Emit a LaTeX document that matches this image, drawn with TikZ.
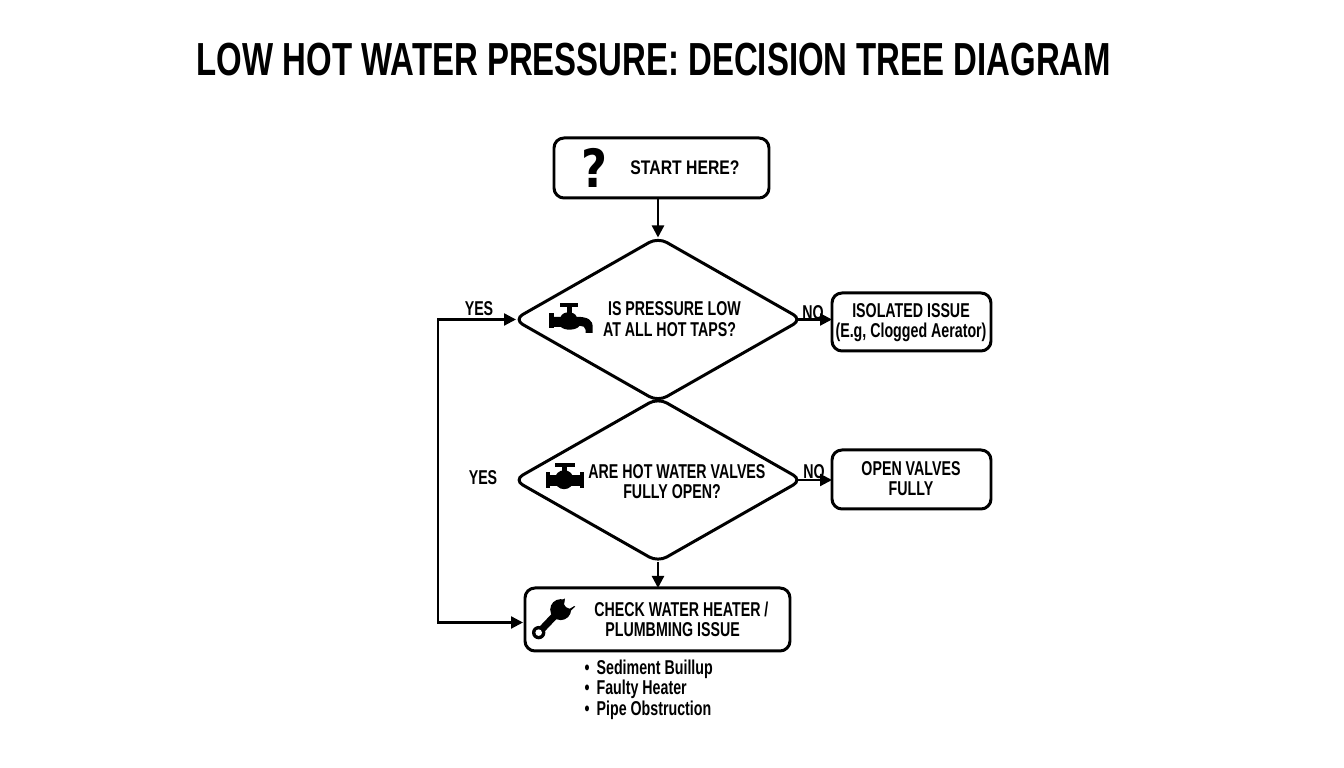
\documentclass[tikz,border=0pt]{standalone}
\usepackage{fontspec}
\setmainfont[FakeStretch=0.71]{Liberation Sans}
\newfontfamily\startfont[FakeStretch=0.8]{Liberation Sans}
\newfontfamily\markfont[FakeStretch=0.85]{DejaVu Sans}
\usetikzlibrary{shapes,arrows.meta,positioning,calc}

\begin{document}
\begin{tikzpicture}[>={Triangle[length=0.12cm,width=0.12cm]}]
\tikzstyle{box} = [draw, rectangle, rounded corners=0.1cm, line width=0.85pt, inner sep=0pt, outer sep=0pt]
\tikzstyle{decision} = [draw, diamond, rounded corners=0.1cm, line width=0.85pt, inner sep=0pt, outer sep=0pt, minimum width=2.88cm, minimum height=1.64cm]
\tikzstyle{label} = [align=center, inner sep=0pt, font=\fontsize{5.7}{5.85}\selectfont\bfseries]
\tikzstyle{flow} = [->, line width=0.65pt]
\tikzstyle{icon} = [fill=black, draw=none]

\useasboundingbox (0,0) rectangle (13.44,7.68);

\node[inner sep=0pt, font=\fontsize{13.2}{14}\selectfont\bfseries] (title) at (6.54,7.08) {LOW HOT WATER PRESSURE: DECISION TREE DIAGRAM};

\node[box, minimum width=2.15cm, minimum height=0.6cm] (start) at (6.615,6.00) {};
\node[label, font=\fontsize{5.6}{5.85}\selectfont\bfseries\startfont] (starttext) at (6.85,6.00) {START HERE?};
\node[inner sep=0pt, font=\fontsize{15}{15}\selectfont\bfseries\markfont] (mark) at (5.945,6.005) {?};

\node[decision] (taps) at (6.58,4.485) {};
\node[label] (tapstext) at (6.72,4.49) {\hspace*{1.4pt}IS PRESSURE LOW\\AT ALL HOT TAPS?\hspace*{1.4pt}};

\node[decision] (valves) at (6.58,2.88) {};
\node[label] (valvestext) at (6.745,2.865) {\hspace*{1.4pt}ARE HOT WATER VALVES\\FULLY OPEN?\hspace*{1.4pt}};

\node[box, minimum width=1.59cm, minimum height=0.58cm] (isolated) at (9.115,4.46) {};
\node[label] (isolatedtext) at (9.11,4.455) {ISOLATED ISSUE\\(E.g, Clogged Aerator)};

\node[box, minimum width=1.59cm, minimum height=0.59cm] (openvalves) at (9.115,2.885) {};
\node[label] (openvalvestext) at (9.11,2.895) {OPEN VALVES\\FULLY};

\node[box, minimum width=2.65cm, minimum height=0.63cm] (check) at (6.575,1.485) {};
\node[label] (checktext) at (6.77,1.485) {\hspace*{2.5pt}CHECK WATER HEATER /\\PLUMBMING ISSUE\hspace*{2.5pt}};

\node[label, anchor=west, align=left] (causes) at (5.84,0.785) {\makebox[3.4pt][l]{\textbullet}Sediment Buillup\\\makebox[3.4pt][l]{\textbullet}Faulty Heater\\\makebox[3.4pt][l]{\textbullet}Pipe Obstruction};

\node[label] (yesa) at (4.79,4.59) {YES};
\node[label] (yesb) at (4.83,2.90) {YES};
\node[label] (noa) at (8.13,4.55) {NO};
\node[label] (nob) at (8.14,2.96) {NO};

\draw[flow] (start.south -| taps.north) -- (taps.north);
\draw[flow] (valves.south) -- (check.north -| valves.south);
\draw[flow, shorten <=-0.06cm] (taps.east) -- (taps.east -| isolated.west);
\draw[flow, shorten <=-0.06cm] (valves.east) -- (valves.east -| openvalves.west);
\draw[<->, line width=0.65pt, shorten <=-0.02cm, shorten >=0.02cm] (taps.west) -- ++(-0.76,0) |- ($(check.west)+(0,-0.03)$);

\begin{scope}[shift={(0cm,7.68cm)}, x=0.01cm, y=-0.01cm]
\fill[icon] (560,303) rectangle (578,307);
\fill[icon] (567,305) rectangle (572,316);
\fill[icon] (549,313) rectangle (554,328);
\fill[icon] (554,317) -- (561,317) .. controls (563,311) and (575,311) .. (577,317) .. controls (588,317) and (593,320) .. (593,327) -- (593,333) -- (586,333) -- (586,330) .. controls (586,327) and (583,326) .. (580,326) .. controls (576,331) and (565,331) .. (561,327) -- (554,327) -- cycle;
\fill[icon] (555,463) rectangle (575,467);
\fill[icon] (562,465) rectangle (567,473);
\fill[icon] (564.5,480) circle (9.5);
\fill[icon] (546,472) rectangle (550,488);
\fill[icon] (580,472) rectangle (584,488);
\fill[icon] (549,475) rectangle (581,486);
\fill[icon] (536.5,630.5) -- (555.5,610.5) -- (560.5,615.5) -- (541.5,635.5) -- cycle;
\fill[icon] (539,633) circle (6.7);
\fill[icon] (561,610) circle (10.5);
\fill[icon] (561,601) -- (566,598.5) -- (567,604) -- cycle;
\fill[icon] (569,613) -- (575.5,607) -- (572,604) -- cycle;
\fill[white] (564.5,604.5) -- (566,596) -- (582,596) -- (577.5,604.5) -- (570,609) -- (566.5,607.5) -- cycle;
\fill[white] (539,633) circle (3.3);
\end{scope}
\end{tikzpicture}
\end{document}
